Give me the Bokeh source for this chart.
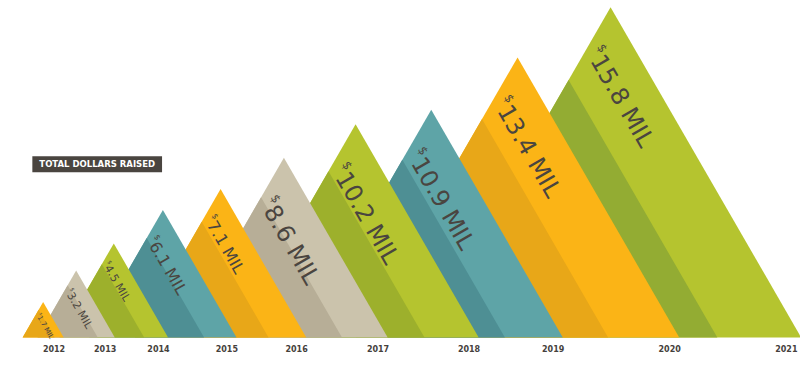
import math
from bokeh.plotting import figure
from bokeh.models import ColumnDataSource, Label, Range1d
from bokeh.embed import file_html
from bokeh.resources import INLINE
from bokeh.core.properties import value

# ---------------- data ----------------
years = ["2012", "2013", "2014", "2015", "2016", "2017", "2018", "2019", "2020", "2021"]
raised_mil = [1.7, 3.2, 4.5, 6.1, 7.1, 8.6, 10.2, 10.9, 13.4, 15.8]
# horizontal position of each peak on the timeline (same units as $ MIL)
peak_x = [2.04, 3.62, 5.42, 7.77, 10.53, 13.56, 16.99, 20.61, 24.74, 29.19]
value_labels = ["1.7 MIL", "3.2 MIL", "4.5 MIL", "6.1 MIL", "7.1 MIL",
                "8.6 MIL", "10.2 MIL", "10.9 MIL", "13.4 MIL", "15.8 MIL"]
title_text = "TOTAL DOLLARS RAISED"

# ---------------- styles ----------------
light_colors = ["#FBB416", "#CBC3AC", "#B5C42F", "#5EA4A7", "#FBB416",
                "#CBC3AC", "#B5C42F", "#5EA4A7", "#FBB416", "#B5C42F"]
dark_colors = ["#E8A718", "#B7AE97", "#9DB02C", "#4E8F94", "#E8A718",
               "#B7AE97", "#9DB02C", "#4E8F94", "#E8A718", "#93AC33"]
label_font_px = [7, 11, 11, 16, 16, 24, 24, 24, 24, 24]
TEXT_COLOR = "#4A4540"
FONT = "DejaVu Sans"

W, H = 800, 369
PX = 20.9          # pixels per unit (both axes, so mountains are equilateral)
BASE_PX = 32       # baseline distance from bottom of canvas
SHADE = 0.22       # fraction of base width that stays light on the right
R3 = math.sqrt(3)
X_END = W / PX

p = figure(width=W, height=H,
           x_range=Range1d(0, X_END),
           y_range=Range1d(-BASE_PX / PX, (H - BASE_PX) / PX),
           output_backend="svg", toolbar_location=None, min_border=0,
           x_axis_location=None, y_axis_location=None)
p.grid.visible = False
p.outline_line_color = None
p.background_fill_color = "white"
p.border_fill_color = "white"

# ---------------- mountains ----------------
xs, ys, cols = [], [], []
n = len(raised_mil)
for i in reversed(range(n)):
    v = raised_mil[i]
    cx = peak_x[i]
    hw = v / R3
    L, R = cx - hw, cx + hw
    xs.append([L, cx, R]); ys.append([0, v, 0]); cols.append(light_colors[i])
    w = SHADE * 2 * hw
    xi = (L + R - w) / 2
    yi = (R - L - w) / 2 * R3
    xs.append([L, R - w, xi]); ys.append([0, 0, yi]); cols.append(dark_colors[i])

p.patches(xs="xs", ys="ys", fill_color="cols", line_color=None,
          source=ColumnDataSource(dict(xs=xs, ys=ys, cols=cols)))

# ---------------- value labels along right slope ----------------
dx, dy = 0.5, -R3 / 2          # down the right edge
nx, ny = -R3 / 2, -0.5         # inward normal
main_x, main_y, main_t, main_s = [], [], [], []
dol_x, dol_y, dol_s = [], [], []
for i in range(n):
    fs = label_font_px[i]
    ax, ay = peak_x[i], raised_mil[i]
    s = 1.15 * fs / PX
    m = 0.8 * fs / PX
    cap = 0.73 * fs / PX
    dw = 0.34 * fs / PX
    main_x.append(ax + (s + dw) * dx + (m + cap) * nx)
    main_y.append(ay + (s + dw) * dy + (m + cap) * ny)
    main_t.append(value_labels[i])
    main_s.append(f"{fs}px")
    dol_x.append(ax + s * dx + (m + 0.36 * fs / PX) * nx)
    dol_y.append(ay + s * dy + (m + 0.36 * fs / PX) * ny)
    dol_s.append(f"{fs * 0.5:.1f}px")

p.text(x="x", y="y", text="t", text_font_size="s", angle=-math.pi / 3,
       text_align="left", text_baseline="alphabetic", text_color=TEXT_COLOR,
       text_font=value(FONT),
       source=ColumnDataSource(dict(x=main_x, y=main_y, t=main_t, s=main_s)))
p.text(x="x", y="y", text="t", text_font_size="s", angle=-math.pi / 3,
       text_align="left", text_baseline="alphabetic", text_color=TEXT_COLOR,
       text_font=value(FONT),
       source=ColumnDataSource(dict(x=dol_x, y=dol_y, t=["$"] * n, s=dol_s)))

# ---------------- year labels at right base corner ----------------
corner_x = [peak_x[i] + raised_mil[i] / R3 for i in range(n)]
year_x = [min(c + 1.5 / PX, X_END - 3 / PX) for c in corner_x]
p.text(x=year_x, y=[0] * n, text=years, text_align="right", text_baseline="top",
       y_offset=7, text_font=value(FONT), text_font_style="bold",
       text_font_size=value("8px"), text_color="#45413C")

# ---------------- title box ----------------
p.add_layout(Label(x=96.7, y=205.2, x_units="screen", y_units="screen",
                   text=title_text, text_align="center", text_baseline="middle",
                   text_font=FONT, text_font_style="bold", text_font_size="8.5px",
                   text_color="white", background_fill_color="#4A4540",
                   padding=(7, 3)))

open("out.html", "w").write(file_html(p, INLINE))
